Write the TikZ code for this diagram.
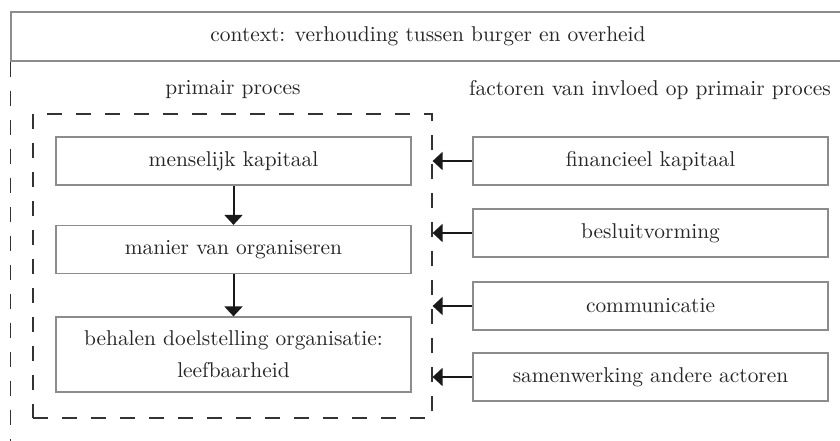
\documentclass[tikz,border=0pt]{standalone}
\usetikzlibrary{arrows.meta}
\newcommand\diagfont{\fontsize{10.7}{16}\selectfont}
\begin{document}
\begin{tikzpicture}[x=0.5pt,y=-0.5pt,
    every node/.style={font=\diagfont,text=black!85},
    box/.style={draw=black!45,line width=0.6pt,minimum width=177.5pt,minimum height=24pt,align=center,inner sep=0pt},
    dashline/.style={draw=black!80,line width=0.6pt,dash pattern=on 7.5pt off 7pt},
    arr/.style={-{Triangle[length=5pt,width=9pt]},line width=1pt,black!90}]
    \clip (0,0) rectangle (840,440);
    % context
    \node[box,minimum width=417pt,minimum height=24.5pt] (ctx) at (428,36.5) {context: verhouding tussen burger en overheid};
    \coordinate (bot) at (11,450);
    \draw[dashline] (ctx.south west) -- (ctx.south west |- bot);
    \node (pplabel) at (233,90) {primair proces};
    \node (fclabel) at (650,90) {factoren van invloed op primair proces};
    % primair proces
    \node[dashline,minimum width=199.5pt,minimum height=152pt,inner sep=0pt] (pp) at (232.5,266) {};
    \node[box] (mk) at (233.5,161) {menselijk kapitaal};
    \node[box] (mo) at (233.5,249.5) {manier van organiseren};
    \node[box,minimum height=37.5pt] (bd) at (233.5,354.5) {behalen doelstelling organisatie:\\leefbaarheid};
    \draw[arr] (mk) -- (mo);
    \draw[arr] (mo) -- (bd);
    % factoren
    \node[box] (fk) at (650.5,161) {financieel kapitaal};
    \node[box] (bv) at (650.5,233) {besluitvorming};
    \node[box] (cm) at (650.5,306) {communicatie};
    \node[box] (sw) at (650.5,377) {samenwerking andere actoren};
    \draw[arr] (fk) -- (fk -| pp.east);
    \draw[arr] (bv) -- (bv -| pp.east);
    \draw[arr] (cm) -- (cm -| pp.east);
    \draw[arr] (sw) -- (sw -| pp.east);
\end{tikzpicture}
\end{document}
